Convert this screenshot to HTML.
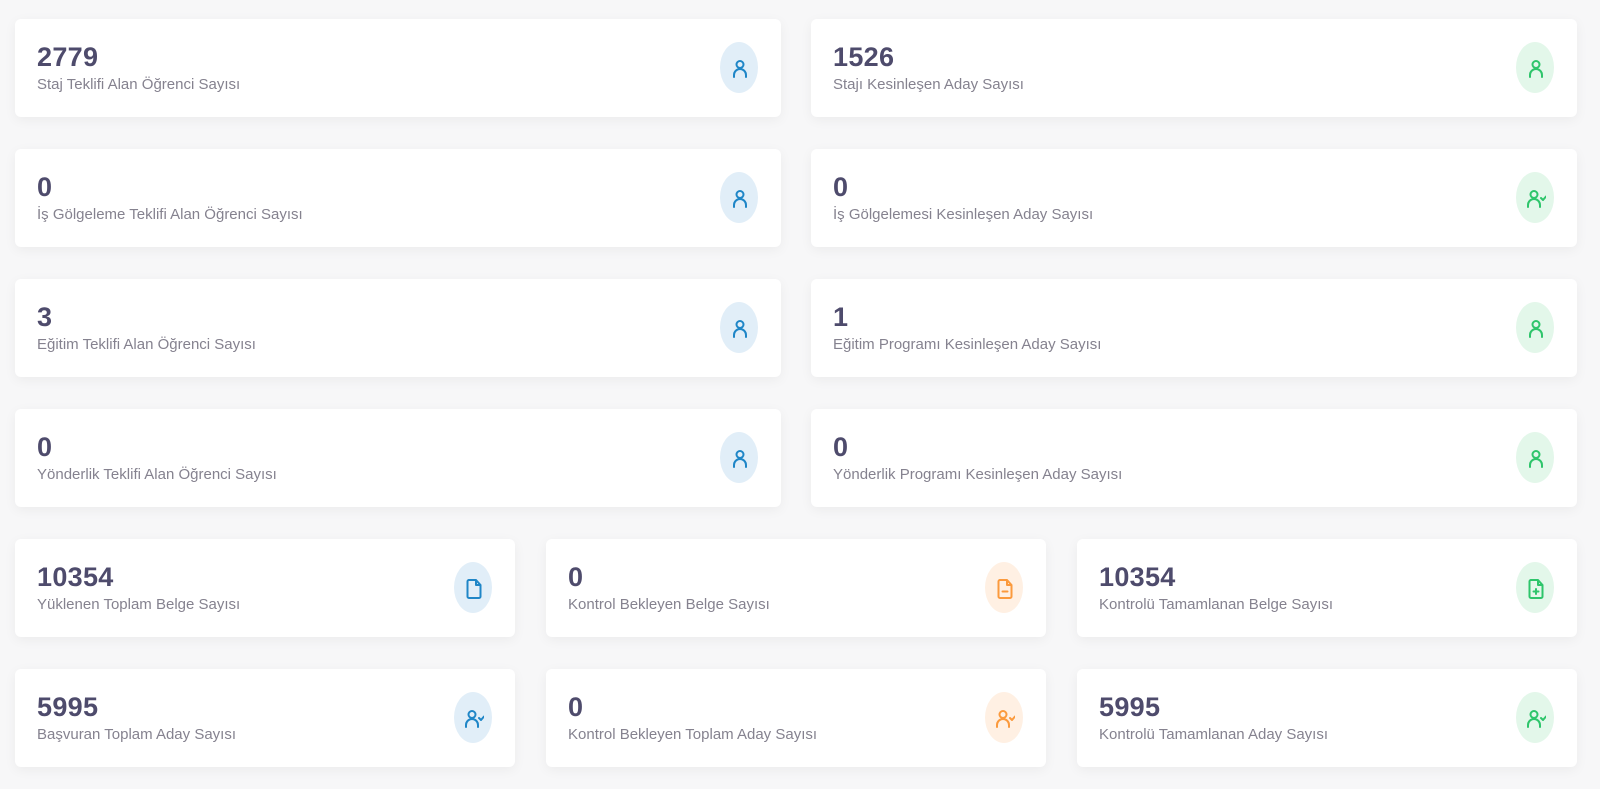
<!DOCTYPE html>
<html><head><meta charset="utf-8"><style>
body{margin:0;width:1600px;height:789px;background:#f7f7f8;font-family:"Liberation Sans",sans-serif;position:relative;overflow:hidden}
.c{position:absolute;height:98px;background:#fff;border-radius:6px;box-shadow:0 3px 12px rgba(0,0,0,0.05)}
.n{position:absolute;left:22px;top:22px;font-size:27px;font-weight:bold;color:#4e4b6c;line-height:32px;letter-spacing:0.3px}
.l{position:absolute;left:22px;top:57px;font-size:15px;color:#85828f;line-height:18px}
.i{position:absolute;right:23px;top:23px;width:38px;height:51px;border-radius:50%;display:flex;align-items:center;justify-content:center}
.b{background:#e1eef8;color:#1f86c7}.g{background:#e3f7ea;color:#2ec56b}.o{background:#fff0e3;color:#fb9a3d}
svg{width:22px;height:22px;fill:none;stroke:currentColor;stroke-width:2;stroke-linecap:round;stroke-linejoin:round}
</style></head><body>
<svg style="display:none"><defs>
<g id="u"><circle cx="12" cy="7.5" r="3.5"/><path d="M6 20v-2a6 6 0 0 1 12 0v2"/></g>
<g id="uc"><circle cx="10" cy="7.5" r="3.5"/><path d="M4 20v-2a6 6 0 0 1 12 0v2M17 11l2 2 3-3.5"/></g>
<g id="f"><path d="M14 3H7a1.5 1.5 0 0 0-1.5 1.5v15A1.5 1.5 0 0 0 7 21h10a1.5 1.5 0 0 0 1.5-1.5V8z M14 3v5h4.5"/></g>
<g id="fm"><path d="M14 3H7a1.5 1.5 0 0 0-1.5 1.5v15A1.5 1.5 0 0 0 7 21h10a1.5 1.5 0 0 0 1.5-1.5V8z M14 3v5h4.5M9.5 14.5h5"/></g>
<g id="fp"><path d="M14 3H7a1.5 1.5 0 0 0-1.5 1.5v15A1.5 1.5 0 0 0 7 21h10a1.5 1.5 0 0 0 1.5-1.5V8z M14 3v5h4.5M9.5 14.5h5M12 12v5"/></g>
</defs></svg>

<div class="c" style="left:15px;top:19px;width:766px"><div class="n">2779</div><div class="l">Staj Teklifi Alan Öğrenci Sayısı</div><div class="i b"><svg><use href="#u"/></svg></div></div>
<div class="c" style="left:811px;top:19px;width:766px"><div class="n">1526</div><div class="l">Stajı Kesinleşen Aday Sayısı</div><div class="i g"><svg><use href="#u"/></svg></div></div>

<div class="c" style="left:15px;top:149px;width:766px"><div class="n">0</div><div class="l">İş Gölgeleme Teklifi Alan Öğrenci Sayısı</div><div class="i b"><svg><use href="#u"/></svg></div></div>
<div class="c" style="left:811px;top:149px;width:766px"><div class="n">0</div><div class="l">İş Gölgelemesi Kesinleşen Aday Sayısı</div><div class="i g"><svg><use href="#uc"/></svg></div></div>

<div class="c" style="left:15px;top:279px;width:766px"><div class="n">3</div><div class="l">Eğitim Teklifi Alan Öğrenci Sayısı</div><div class="i b"><svg><use href="#u"/></svg></div></div>
<div class="c" style="left:811px;top:279px;width:766px"><div class="n">1</div><div class="l">Eğitim Programı Kesinleşen Aday Sayısı</div><div class="i g"><svg><use href="#u"/></svg></div></div>

<div class="c" style="left:15px;top:409px;width:766px"><div class="n">0</div><div class="l">Yönderlik Teklifi Alan Öğrenci Sayısı</div><div class="i b"><svg><use href="#u"/></svg></div></div>
<div class="c" style="left:811px;top:409px;width:766px"><div class="n">0</div><div class="l">Yönderlik Programı Kesinleşen Aday Sayısı</div><div class="i g"><svg><use href="#u"/></svg></div></div>

<div class="c" style="left:15px;top:539px;width:500px"><div class="n">10354</div><div class="l">Yüklenen Toplam Belge Sayısı</div><div class="i b"><svg><use href="#f"/></svg></div></div>
<div class="c" style="left:546px;top:539px;width:500px"><div class="n">0</div><div class="l">Kontrol Bekleyen Belge Sayısı</div><div class="i o"><svg><use href="#fm"/></svg></div></div>
<div class="c" style="left:1077px;top:539px;width:500px"><div class="n">10354</div><div class="l">Kontrolü Tamamlanan Belge Sayısı</div><div class="i g"><svg><use href="#fp"/></svg></div></div>

<div class="c" style="left:15px;top:669px;width:500px"><div class="n">5995</div><div class="l">Başvuran Toplam Aday Sayısı</div><div class="i b"><svg><use href="#uc"/></svg></div></div>
<div class="c" style="left:546px;top:669px;width:500px"><div class="n">0</div><div class="l">Kontrol Bekleyen Toplam Aday Sayısı</div><div class="i o"><svg><use href="#uc"/></svg></div></div>
<div class="c" style="left:1077px;top:669px;width:500px"><div class="n">5995</div><div class="l">Kontrolü Tamamlanan Aday Sayısı</div><div class="i g"><svg><use href="#uc"/></svg></div></div>
</body></html>
